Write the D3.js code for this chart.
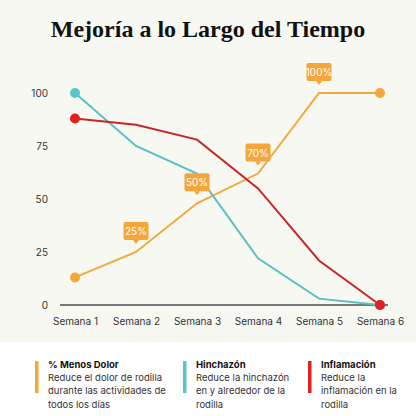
<!DOCTYPE html>
<html><head><meta charset="utf-8">
<script src="https://cdn.jsdelivr.net/npm/d3@7"></script>
<style>
html,body{margin:0;padding:0;background:#f8f8f3;}
svg{display:block;}
</style></head><body>
<script>
const weeks = ["Semana 1","Semana 2","Semana 3","Semana 4","Semana 5","Semana 6"];
const dolor = [13, 25, 48, 62, 100, 100];
const hinchazon = [100, 75, 62, 22, 3, 0];
const inflamacion = [88, 85, 78, 55, 21, 0];
const yTicks = [0, 25, 50, 75, 100];
const callouts = [null, "25%", "50%", "70%", "100%", null];
const seriesNames = ["% Menos Dolor", "Hinchazón", "Inflamación"];
const seriesDesc = [
  ["Reduce el dolor de rodilla", "durante las actividades de", "todos los días"],
  ["Reduce la hinchazón", "en y alrededor de la", "rodilla"],
  ["Reduce la", "inflamación en la", "rodilla"]
];
const colors = ["#f2a93b", "#5bbfc6", "#c62828"];
const dotColors = ["#f5a73a", "#5bc3ca", "#e3201f"];

const W = 416, H = 416;
const svg = d3.select("body").append("svg").attr("width", W).attr("height", H);
const font = "Inter, 'Open Sans', sans-serif";

svg.append("rect").attr("width", W).attr("height", 342).attr("fill", "#f8f8f3");
svg.append("rect").attr("y", 342).attr("width", W).attr("height", H - 342).attr("fill", "#ffffff");

svg.append("text").attr("x", 208).attr("y", 37).attr("text-anchor", "middle")
  .attr("font-family", "'Liberation Serif', serif").attr("font-weight", "bold")
  .attr("font-size", 24).attr("fill", "#111").text("Mejoría a lo Largo del Tiempo");

const x = d3.scalePoint().domain(weeks).range([75, 380]);
const y = d3.scaleLinear().domain([0, 100]).range([305, 93]);

// axis baseline
svg.append("line").attr("x1", 60).attr("x2", 388).attr("y1", y(0)).attr("y2", y(0))
  .attr("stroke", "#777").attr("stroke-width", 2);

// y tick labels
const yAxis = d3.axisLeft(y).tickValues(yTicks).tickSize(0).tickPadding(0);
const ya = svg.append("g").attr("transform", "translate(48,0)").call(yAxis);
ya.select(".domain").remove();
ya.selectAll("text").attr("font-family", font).attr("font-size", 10).attr("fill", "#333");

// x tick labels
const xAxis = d3.axisBottom(x).tickSize(0).tickPadding(0);
const xa = svg.append("g").attr("transform", "translate(0,318)").call(xAxis);
xa.select(".domain").remove();
xa.selectAll("text").attr("font-family", font).attr("font-size", 10).attr("fill", "#333");

const line = d3.line().x((d, i) => x(weeks[i])).y(d => y(d));
const allSeries = [dolor, hinchazon, inflamacion];
allSeries.forEach((s, k) => {
  svg.append("path").datum(s).attr("d", line).attr("fill", "none")
    .attr("stroke", colors[k]).attr("stroke-width", 2).attr("stroke-linejoin", "miter");
});
// end dots
allSeries.forEach((s, k) => {
  [0, s.length - 1].forEach(i => {
    svg.append("circle").attr("cx", x(weeks[i])).attr("cy", y(s[i])).attr("r", 5)
      .attr("fill", dotColors[k]);
  });
});

// callouts
callouts.forEach((c, i) => {
  if (!c) return;
  const cx = x(weeks[i]), cy = y(dolor[i]);
  const g = svg.append("g").attr("transform", `translate(${cx},${cy - 10})`);
  g.append("rect").attr("x", -12.5).attr("y", -20).attr("width", 25).attr("height", 18)
    .attr("rx", 2).attr("fill", "#f5a63a");
  g.append("path").attr("d", "M-3,-2 L3,-2 L0,2 Z").attr("fill", "#f5a63a");
  g.append("text").attr("x", 0).attr("y", -7).attr("text-anchor", "middle")
    .attr("font-family", font).attr("font-size", 10).attr("fill", "#fff").text(c);
});

// legend
const legX = [35, 183, 308];
seriesNames.forEach((n, k) => {
  const g = svg.append("g").attr("transform", `translate(${legX[k]},0)`);
  g.append("rect").attr("x", 0).attr("y", 361).attr("width", 3.5).attr("height", 32).attr("fill", dotColors[k]);
  g.append("text").attr("x", 13).attr("y", 368).attr("font-family", font).attr("font-weight", "bold")
    .attr("font-size", 9.5).attr("fill", "#111").text(n);
  seriesDesc[k].forEach((t, j) => {
    g.append("text").attr("x", 13).attr("y", 381 + j * 13.4).attr("font-family", font)
      .attr("font-size", 9.5).attr("fill", "#333").text(t);
  });
});
</script>
</body></html>
